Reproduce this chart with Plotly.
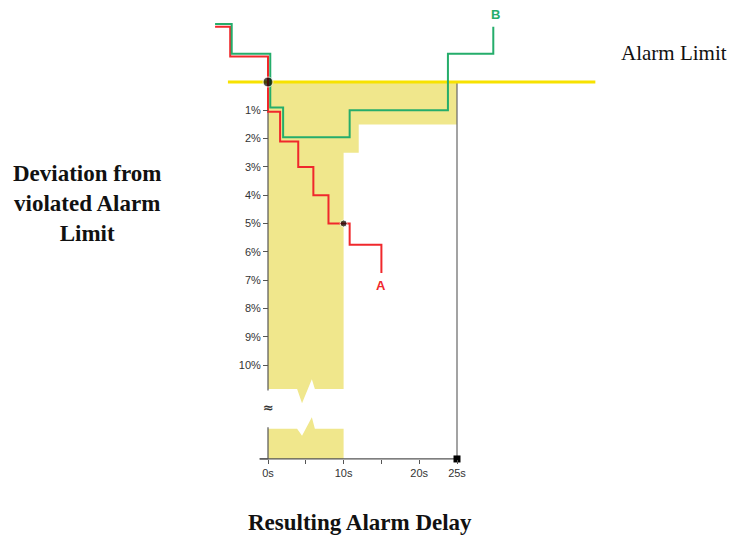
import plotly.graph_objects as go

# Deviation (%) beyond the alarm limit vs. time (s)
red_t = [-7, -5, 0, 1.6, 4, 6, 8, 10.8, 15]
red_d = [-1.95, -0.9, 1.05, 2.1, 3, 4, 5, 5.75, 6.75]
green_t = [-7, -4.8, 0.3, 2, 10.8, 23.8, 29.8]
green_d = [-2.05, -1.0, 0.9, 1.95, 1.0, -1.0, -1.95]

# Resulting delay region (upper part, above the axis break)
fill_top_t = [0, 25, 25, 12, 12, 10, 10, 6.2, 5.8, 4.5, 3.85, 0]
fill_top_d = [0, 0, 1.5, 1.5, 2.5, 2.5, 10.85, 10.85, 10.5, 11.35, 10.85, 10.85]
# lower part, below the axis break
fill_low_t = [0, 3.85, 4.5, 5.8, 6.2, 10, 10, 0]
fill_low_d = [12.25, 12.25, 12.5, 11.85, 12.25, 12.25, 13.32, 13.32]

limit_t = [-5.3, 43.3]
limit_d = [0, 0]

y_ticks = [1, 2, 3, 4, 5, 6, 7, 8, 9, 10]
y_labels = ['1%', '2%', '3%', '4%', '5%', '6%', '7%', '8%', '9%', '10%']
x_ticks = [0, 5, 10, 15, 20, 25]
x_labels = ['0s', '', '10s', '', '20s', '25s']

# page has an 8px body margin, so the figure is drawn 8px in from the corner
PAD = 8
W, H = 736 - 2 * PAD, 544 - 2 * PAD
X0, PX_S = 268 - PAD, 7.56     # pixel of 0 s, pixels per second
Y0, PX_D = 82 - PAD, 28.3      # pixel of the alarm limit, pixels per %
x_rng = [-X0 / PX_S, (W - X0) / PX_S]
y_rng = [(H - Y0) / PX_D, -Y0 / PX_D]
d_base = 13.32           # time axis level
d_break = 11.5           # axis break

fill_col = '#f0e78c'
axis_col = '#555555'

fig = go.Figure()

# Delay region
for ft, fd in [(fill_top_t, fill_top_d), (fill_low_t, fill_low_d)]:
    fig.add_trace(go.Scatter(
        x=ft, y=fd, mode='lines', fill='toself', fillcolor=fill_col,
        line=dict(width=0), hoverinfo='skip', showlegend=False
    ))

# Vertical line at 25 s
fig.add_trace(go.Scatter(
    x=[x_ticks[-1], x_ticks[-1]], y=[0, d_base], mode='lines',
    line=dict(color='#666666', width=1.2), hoverinfo='skip', showlegend=False
))

# Alarm limit
fig.add_trace(go.Scatter(
    x=limit_t, y=limit_d, mode='lines',
    line=dict(color='#f7e200', width=3), hoverinfo='skip', showlegend=False
))

# Axis lines (with break)
fig.add_trace(go.Scatter(
    x=[0, 0, None, 0, 0, -1.1], y=[0, 10.9, None, 12.2, d_base, d_base],
    mode='lines', line=dict(color=axis_col, width=1.2),
    hoverinfo='skip', showlegend=False
))
fig.add_trace(go.Scatter(
    x=[-1.1, x_ticks[-1]], y=[d_base, d_base], mode='lines',
    line=dict(color=axis_col, width=1.2), hoverinfo='skip', showlegend=False
))

# Curves A and B
fig.add_trace(go.Scatter(
    x=red_t, y=red_d, mode='lines', line=dict(color='#f0282c', width=2, shape='hv'),
    name='A', showlegend=False
))
fig.add_trace(go.Scatter(
    x=green_t, y=green_d, mode='lines', line=dict(color='#25ad6b', width=2, shape='hv'),
    name='B', showlegend=False
))

# Markers
fig.add_trace(go.Scatter(
    x=[0, 10], y=[0, 5], mode='markers',
    marker=dict(color='black', size=[10, 7]), hoverinfo='skip', showlegend=False
))
fig.add_trace(go.Scatter(
    x=[x_ticks[-1]], y=[d_base], mode='markers',
    marker=dict(color='black', size=7, symbol='square'), hoverinfo='skip', showlegend=False
))

# Break symbol, curve labels
fig.add_annotation(x=0, y=d_break, text='<b>≈</b>', showarrow=False,
                   font=dict(family='DejaVu Sans', size=13, color='#333'))
fig.add_annotation(x=red_t[-1], y=red_d[-1] + 0.45, text='<b>A</b>', showarrow=False,
                   font=dict(family='Arial', size=13, color='#f0282c'))
fig.add_annotation(x=green_t[-1] + 0.3, y=green_d[-1] - 0.45, text='<b>B</b>', showarrow=False,
                   font=dict(family='Arial', size=13, color='#25ad6b'))

serif = 'Liberation Serif'
fig.add_annotation(xref='paper', yref='paper', x=(87 - PAD) / W, y=1 - (203 - PAD) / H,
                   text='<b>Deviation from<br>violated Alarm<br>Limit</b>',
                   showarrow=False, xanchor='center', yanchor='middle', align='center',
                   font=dict(family=serif, size=23, color='#111'))
fig.add_annotation(xref='paper', yref='paper', x=(619 - PAD) / W, y=1 - (53 - PAD) / H,
                   text='Alarm Limit', showarrow=False, xanchor='left', yanchor='middle',
                   font=dict(family=serif, size=21, color='#111'))
fig.add_annotation(xref='paper', yref='paper', x=(360 - PAD) / W, y=1 - (522 - PAD) / H,
                   text='<b>Resulting Alarm Delay</b>', showarrow=False,
                   xanchor='center', yanchor='middle',
                   font=dict(family=serif, size=23, color='#111'))

tick_font = dict(family='Arial', size=11, color='#333')
fig.update_layout(
    width=W, height=H,
    margin=dict(l=0, r=0, t=0, b=0),
    plot_bgcolor='white', paper_bgcolor='white',
    xaxis=dict(
        range=x_rng, showgrid=False, zeroline=False, showline=False,
        tickvals=x_ticks, ticktext=x_labels, ticks='outside', ticklen=4,
        tickcolor=axis_col, tickfont=tick_font,
        anchor='free', position=(H - (Y0 + d_base * PX_D)) / H
    ),
    yaxis=dict(
        range=y_rng, showgrid=False, zeroline=False, showline=False,
        tickvals=y_ticks, ticktext=y_labels, ticks='outside', ticklen=5,
        tickcolor=axis_col, tickfont=tick_font,
        anchor='free', position=X0 / W
    )
)

fig.write_html("out.html")
